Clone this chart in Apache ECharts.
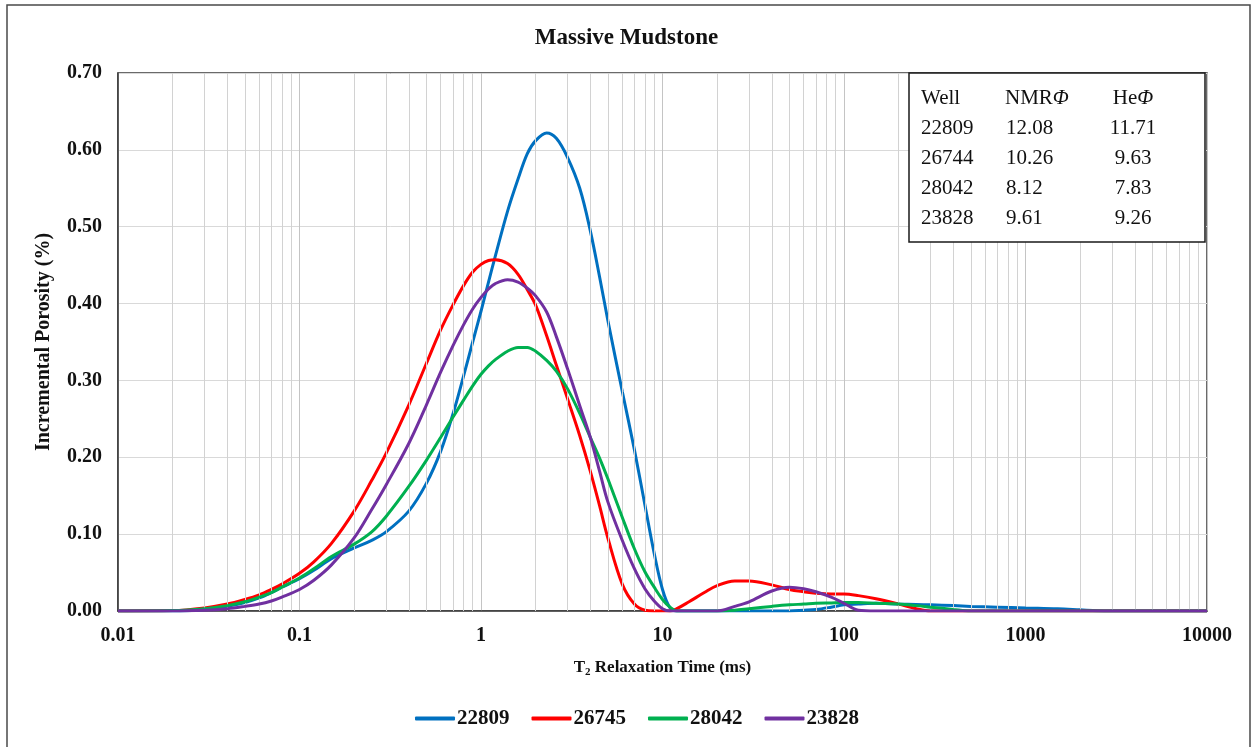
<!DOCTYPE html>
<html>
<head>
<meta charset="utf-8">
<script src="https://cdn.jsdelivr.net/npm/echarts@6/dist/echarts.min.js"></script>
<style>html,body{margin:0;padding:0;background:#fff;}#chart{width:1253px;height:747px;}</style>
</head>
<body>
<div id="chart"></div>
<script>
// ---- data ----
const T = [0.01,0.02,0.03,0.04,0.05,0.06,0.07,0.08,
  0.1,0.12,0.15,0.2,0.25,0.3,
  0.4,0.5,0.6,0.7,0.8,0.9,
  1.0,1.1,1.2,1.4,1.6,1.8,
  2.0,2.3,2.6,3.0,3.5,4.0,
  4.5,5.0,6.0,7.0,8.0,9.0,
  10,11,12,14,17,20,
  25,30,40,50,60,70,
  85,100,120,150,200,250,
  300,400,500,700,1000,1500,
  2000,2500,3000,5000,10000];

const v22809 = [0,0,0.002,0.006,0.011,0.017,0.024,0.031,
  0.042,0.053,0.068,0.082,0.092,0.103,
  0.13,0.166,0.208,0.256,0.305,0.35,
  0.39,0.428,0.462,0.52,0.562,0.595,
  0.612,0.622,0.615,0.59,0.55,0.495,
  0.435,0.378,0.286,0.21,0.138,0.075,
  0.028,0.004,0,0,0,0,
  0,0,0,0,0.001,0.002,
  0.005,0.008,0.009,0.01,0.009,0.0085,
  0.008,0.007,0.006,0.005,0.004,0.003,
  0.0015,0.0003,0,0,0];

const v26745 = [0,0.0005,0.004,0.009,0.015,0.021,0.028,0.035,
  0.049,0.064,0.088,0.13,0.17,0.205,
  0.268,0.322,0.366,0.398,0.423,0.441,
  0.451,0.456,0.457,0.452,0.438,0.418,
  0.398,0.358,0.32,0.276,0.228,0.182,
  0.137,0.095,0.035,0.009,0.001,0,
  0,0,0.003,0.012,0.024,0.033,
  0.039,0.039,0.034,0.028,0.025,0.023,
  0.022,0.022,0.02,0.016,0.009,0.003,
  0,0,0,0,0,0,
  0,0,0,0,0];

const v28042 = [0,0.0005,0.003,0.007,0.012,0.018,0.024,0.031,
  0.043,0.055,0.071,0.087,0.103,0.123,
  0.162,0.196,0.226,0.252,0.274,0.293,
  0.308,0.319,0.327,0.338,0.343,0.343,
  0.338,0.326,0.312,0.289,0.257,0.226,
  0.199,0.172,0.122,0.081,0.051,0.031,
  0.015,0.005,0,0,0,0,
  0.001,0.003,0.006,0.008,0.009,0.01,
  0.0105,0.011,0.011,0.01,0.009,0.007,
  0.005,0.002,0,0,0,0,
  0,0,0,0,0];

const v23828 = [0,0,0.001,0.003,0.006,0.009,0.013,0.018,
  0.028,0.04,0.06,0.095,0.132,0.164,
  0.218,0.268,0.311,0.345,0.372,0.393,
  0.408,0.419,0.426,0.431,0.428,0.42,
  0.41,0.389,0.357,0.315,0.267,0.226,
  0.182,0.142,0.092,0.055,0.029,0.013,
  0.003,0,0,0,0,0,
  0.006,0.012,0.026,0.031,0.029,0.025,
  0.018,0.01,0.001,0,0,0,
  0,0,0,0,0,0,
  0,0,0,0,0];

const seriesNames = ['22809','26745','28042','23828'];
const seriesColors = ['#0070C0','#FF0000','#00B050','#7030A0'];

const xTickLabels = ['0.01','0.1','1','10','100','1000','10000'];
const minorMultipliers = [2,3,4,5,6,7,8,9];
const decades = [0.01,0.1,1,10,100,1000];

const tableWells = ['22809','26744','28042','23828'];
const tableNMR = ['12.08','10.26','8.12','9.61'];
const tableHe = ['11.71','9.63','7.83','9.26'];

// ---- build ----
const FONT = "'Liberation Serif','Times New Roman',serif";
const allValues = [v22809, v26745, v28042, v23828];

const minorLines = [];
decades.forEach(d => minorMultipliers.forEach(m => minorLines.push({xAxis: +(d*m).toPrecision(6)})));

const series = [{
  name: '_grid', type: 'line', data: [], silent: true, z: 1,
  markLine: {
    silent: true, symbol: 'none', label: {show: false}, animation: false,
    lineStyle: {color: '#d2d2d2', type: 'solid', width: 1},
    data: minorLines
  }
}];
seriesNames.forEach((n, i) => {
  series.push({
    name: n, type: 'line', symbol: 'none', showSymbol: false,
    smooth: 0.35,
    lineStyle: {color: seriesColors[i], width: 3},
    itemStyle: {color: seriesColors[i]},
    data: T.map((t, k) => [t, allValues[i][k]]),
    z: 3 + i
  });
});

// table graphic
const tbl = {x: 909, y: 73, w: 296, h: 169};
const TZ = 300;
const graphics = [
  {type: 'rect', z: TZ + 50, silent: true, shape: {x: 7, y: 5, width: 1243, height: 760},
    style: {fill: 'none', stroke: '#4a4a4a', lineWidth: 1.5}},
  {type: 'rect', z: TZ, silent: true, shape: {x: tbl.x, y: tbl.y, width: tbl.w, height: tbl.h},
    style: {fill: '#fff', stroke: '#1a1a1a', lineWidth: 1.5}}
];
const rowY0 = tbl.y + 25, rowDy = 30;
const txt = (t, x, y, align) => ({type: 'text', z: TZ + 1, x: tbl.x + x, y: y, silent: true,
  style: {text: t, font: "21px " + FONT, fill: '#111', textAlign: align, textVerticalAlign: 'middle'}});
graphics.push(txt('Well', 12, rowY0, 'left'));
graphics.push({type: 'text', z: TZ + 1, x: tbl.x + 96, y: rowY0, silent: true, style: {
  text: '{a|NMR}{b|Φ}', textVerticalAlign: 'middle', fill: '#111',
  rich: {a: {font: "21px " + FONT, fill: '#111'}, b: {font: "italic 21px " + FONT, fill: '#111'}}}});
graphics.push({type: 'text', z: TZ + 1, x: tbl.x + 224, y: rowY0, silent: true, style: {
  text: '{a|He}{b|Φ}', textAlign: 'center', textVerticalAlign: 'middle', fill: '#111',
  rich: {a: {font: "21px " + FONT, fill: '#111'}, b: {font: "italic 21px " + FONT, fill: '#111'}}}});
tableWells.forEach((w, i) => {
  const y = rowY0 + rowDy * (i + 1);
  graphics.push(txt(w, 12, y, 'left'));
  graphics.push(txt(tableNMR[i], 97, y, 'left'));
  graphics.push(txt(tableHe[i], 224, y, 'center'));
});

const option = {
  animation: false,
  backgroundColor: '#fff',
  title: {
    text: 'Massive Mudstone', left: 'center', top: 22,
    textStyle: {fontFamily: FONT, fontWeight: 'bold', fontSize: 23, color: '#111'}
  },
  legend: {
    data: seriesNames, bottom: 13, left: 410,
    icon: 'roundRect', itemWidth: 40, itemHeight: 4, itemGap: 22,
    textStyle: {fontFamily: FONT, fontWeight: 'bold', fontSize: 21, color: '#111', padding: [0, 0, 0, -3]}
  },
  grid: {left: 118, right: 46, top: 73, bottom: 136, show: true, borderColor: '#3a3a3a', borderWidth: 1.5},
  xAxis: {
    type: 'log', logBase: 10, min: 0.01, max: 10000,
    name: 'T{s|2} Relaxation Time (ms)', nameLocation: 'middle', nameGap: 46,
    nameTextStyle: {fontFamily: FONT, fontWeight: 'bold', fontSize: 17, color: '#111',
      rich: {s: {fontFamily: FONT, fontWeight: 'bold', fontSize: 11, color: '#111', padding: [10, 0, 0, 0]}}},
    axisLine: {show: true, lineStyle: {color: '#3a3a3a', width: 1.5}},
    axisTick: {show: false},
    axisLabel: {margin: 15, fontFamily: FONT, fontWeight: 'bold', fontSize: 20, color: '#111',
      formatter: v => {
        const s = String(+v.toPrecision(6));
        return xTickLabels.indexOf(s) >= 0 ? s : '';
      }},
    splitLine: {show: true, lineStyle: {color: '#c4c4c4', width: 1}}
  },
  yAxis: {
    type: 'value', min: 0, max: 0.7, interval: 0.1,
    name: 'Incremental Porosity (%)', nameLocation: 'middle', nameGap: 64,
    nameTextStyle: {fontFamily: FONT, fontWeight: 'bold', fontSize: 20, color: '#111'},
    axisLine: {show: true, lineStyle: {color: '#3a3a3a', width: 1.5}},
    axisTick: {show: false},
    axisLabel: {margin: 16, fontFamily: FONT, fontWeight: 'bold', fontSize: 20, color: '#111',
      formatter: v => v.toFixed(2)},
    splitLine: {show: true, lineStyle: {color: '#d9d9d9', width: 1}}
  },
  graphic: graphics,
  series: series
};

const chart = echarts.init(document.getElementById('chart'), null, {renderer: 'canvas'});
chart.setOption(option);
</script>
</body>
</html>
